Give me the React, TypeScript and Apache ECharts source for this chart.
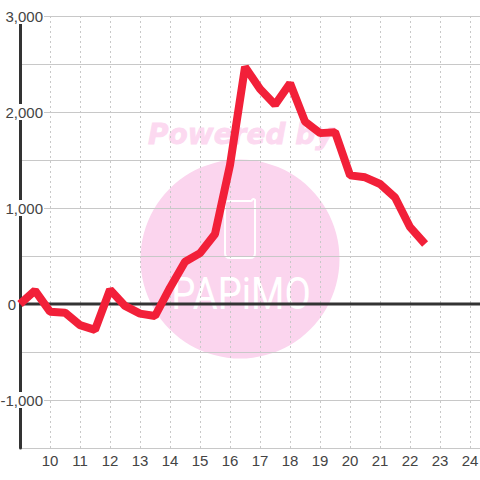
import React, { useEffect, useRef } from "react";
import * as echarts from "echarts";

const hours = [9, 9.5, 10, 10.5, 11, 11.5, 12, 12.5, 13, 13.5, 14, 14.5, 15, 15.5, 16, 16.5, 17, 17.5, 18, 18.5, 19, 19.5, 20, 20.5, 21, 21.5, 22, 22.5];
const values = [0, 140, -80, -90, -220, -270, 150, -20, -100, -125, 170, 440, 530, 730, 1450, 2470, 2240, 2075, 2300, 1900, 1780, 1790, 1340, 1320, 1250, 1110, 800, 625];
const baselineHours = [9, 24.33];
const baselineValues = [0, 0];
const yLabels = [-1000, 0, 1000, 2000, 3000];
const xLabels = [10, 11, 12, 13, 14, 15, 16, 17, 18, 19, 20, 21, 22, 23, 24];
const watermarkTop = "Powered by";
const watermarkLogo = "PAPiMO";

const FONT = '"Liberation Sans", Arial, sans-serif';
const TEXT = "#444";
const GRID = "#c8c8c8";
const PINK = "#fbd5ee";

echarts.graphic.registerShape(
  "phoneLogo",
  echarts.graphic.extendPath(
    "M3 0 H27 Q28 0 28 -1 Q29 -3 31 -1 V52 Q31 57 26 57 H6 Q1 57 1 52 V3 Q1 0 3 0 Z",
    {}
  )
);

export default function App() {
  const ref = useRef<HTMLDivElement>(null);
  useEffect(() => {
    const chart = echarts.init(ref.current!, undefined, { renderer: "svg" });
    chart.setOption({
      animation: false,
      backgroundColor: "#ffffff",
      grid: { left: 20, right: 0, top: 16, bottom: 32, containLabel: false, outerBoundsMode: "none" },
      graphic: {
        elements: [
          { type: "circle", z: -1, shape: { cx: 240, cy: 259, r: 99.5 }, style: { fill: PINK } },
          {
            type: "text", z: -1, x: 148, y: 120,
            style: { text: watermarkTop, fill: "#fcd9f0", stroke: "#fcd9f0", lineWidth: 0.8, font: `italic bold 28px "DejaVu Sans", sans-serif` },
          },
          {
            type: "phoneLogo", z: -1, x: 224, y: 201,
            style: { fill: "none", stroke: "#fff", lineWidth: 2 },
          },
          {
            type: "text", z: -1, x: 241, y: 271, scaleX: 0.85, originX: 0,
            style: { text: watermarkLogo, fill: "#fff", align: "center", font: `400 45px Roboto, sans-serif` },
          },
        ],
      },
      xAxis: {
        type: "value", min: 9, max: 24.33, interval: 1,
        axisLine: { show: false }, axisTick: { show: false },
        splitLine: { show: true, lineStyle: { color: GRID, type: [2, 3], width: 1 } },
        axisLabel: {
          color: TEXT, fontFamily: FONT, fontSize: 15, margin: 5,
          showMinLabel: false, showMaxLabel: false,
          formatter: (v: number) => (xLabels.includes(v) ? String(v) : ""),
        },
      },
      yAxis: {
        type: "value", min: -1500, max: 3000, interval: 500,
        axisLine: { show: true, onZero: false, lineStyle: { color: "#333", width: 3 } },
        axisTick: { show: false },
        splitLine: { show: true, lineStyle: { color: GRID, width: 1 } },
        axisLabel: {
          color: TEXT, fontFamily: FONT, fontSize: 15, margin: -24, align: "right",
          formatter: (v: number) => {
            if (!yLabels.includes(v)) return "";
            return v === 0 ? "{z|0}" : `{a|${v.toLocaleString("en-US")}}`;
          },
          rich: {
            a: {
              color: TEXT, fontFamily: FONT, fontSize: 15, align: "right",
              backgroundColor: "#fff", padding: [0, 1, 0, 1], lineHeight: 16, height: 16,
            },
            z: {
              color: TEXT, fontFamily: FONT, fontSize: 15, align: "right",
              padding: [0, 28, 0, 0], lineHeight: 16, height: 16,
            },
          },
        },
      },
      series: [
        {
          type: "line", z: 1, symbol: "none", silent: true,
          data: baselineHours.map((h, i) => [h, baselineValues[i]]),
          lineStyle: { color: "#333", width: 3, cap: "butt" },
        },
        {
          type: "line", z: 5, symbol: "none", clip: false,
          data: hours.map((h, i) => [h, values[i]]),
          lineStyle: { color: "#f22039", width: 8, cap: "butt", join: "bevel" },
        },
      ],
    });
    return () => chart.dispose();
  }, []);
  return <div ref={ref} style={{ position: "fixed", left: 0, top: 0, width: 480, height: 480 }} />;
}
